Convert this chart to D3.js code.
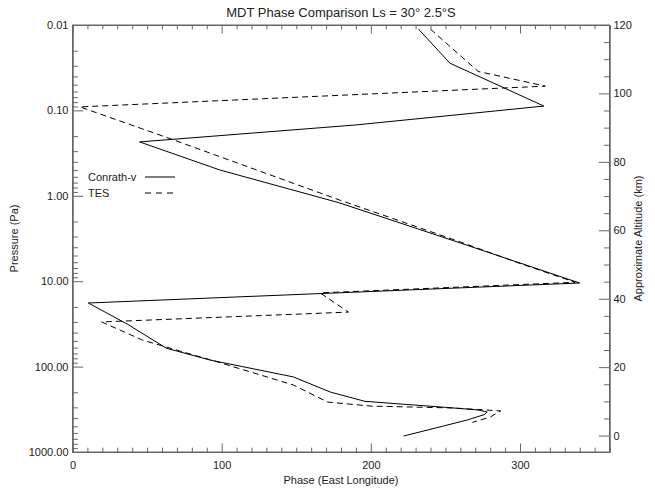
<!DOCTYPE html>
<html>
<head>
<meta charset="utf-8">
<script src="https://cdn.jsdelivr.net/npm/d3@7"></script>
<style>
  body { margin: 0; background: #fff; }
  text { font-family: "Liberation Sans", Arial, sans-serif; fill: #222; }
</style>
</head>
<body>
<svg id="chart" width="655" height="491"></svg>
<script>
// phase (deg East longitude) vs pressure (Pa)
const conrathPhase = [232, 253, 316, 190, 45, 99, 179, 260, 340, 10.6, 37, 63, 92.5, 148, 173, 196, 250, 272, 278, 276, 265, 248, 222];
const conrathPres  = [0.0112, 0.028, 0.089, 0.148, 0.234, 0.50, 1.21, 3.57, 10.5, 18, 32, 61, 84, 132, 199, 255, 300, 322, 340, 365, 420, 500, 650];

const tesPhase = [240, 272, 317, 5, 66, 179, 260, 300, 337, 166, 185, 19.5, 47, 97, 148, 171, 200, 255, 287, 280, 268];
const tesPres  = [0.0112, 0.035, 0.052, 0.091, 0.216, 1.12, 3.47, 6.2, 10.3, 13.7, 23, 30, 49, 88, 164, 260, 290, 305, 330, 390, 450];

const pressureTicks = [0.01, 0.1, 1, 10, 100, 1000];
const pressureLabels = ["0.01", "0.10", "1.00", "10.00", "100.00", "1000.00"];
const phaseTicks = [0, 100, 200, 300];
const altTicks = [0, 20, 40, 60, 80, 100, 120];

const margin = {top: 25, right: 45.5, bottom: 39, left: 72.5};
const width = 655 - margin.left - margin.right;
const height = 491 - margin.top - margin.bottom;

const svg = d3.select("#chart");
const g = svg.append("g")
    .attr("transform", "translate(" + margin.left + "," + margin.top + ")");

const x = d3.scaleLinear().domain([0, 360]).range([0, width]);
const y = d3.scaleLog().domain([1000, 0.01]).range([height, 0]);
const alt = d3.scaleLinear().domain([-4.8, 120]).range([height, 0]);

const axisColor = "#666";

// minor ticks: every 10 deg on phase, 2..9 per decade on pressure, every 5 km on altitude
const phaseMinor = d3.range(0, 361, 10).filter(v => v % 100 !== 0);
const presMinor = [];
pressureTicks.slice(0, -1).forEach(p => {
    for (let k = 2; k <= 9; k++) presMinor.push(p * k);
});
const altMinor = d3.range(0, 121, 5).filter(v => v % 20 !== 0);

// bottom and top axes
const bottomAxis = g.append("g").attr("transform", "translate(0," + height + ")")
    .call(d3.axisBottom(x).tickValues(phaseTicks).tickSizeInner(-8.5).tickSizeOuter(0).tickPadding(13));
const bottomMinor = g.append("g").attr("transform", "translate(0," + height + ")")
    .call(d3.axisBottom(x).tickValues(phaseMinor).tickSize(-4.3).tickFormat(""));
const topAxis = g.append("g")
    .call(d3.axisTop(x).tickValues(phaseTicks).tickSizeInner(-8.5).tickSizeOuter(0).tickFormat(""));
const topMinor = g.append("g")
    .call(d3.axisTop(x).tickValues(phaseMinor).tickSize(-4.3).tickFormat(""));

// left pressure axis
const leftAxis = g.append("g")
    .call(d3.axisLeft(y).tickValues(pressureTicks).tickSizeInner(-10.7).tickSizeOuter(0).tickPadding(4)
        .tickFormat((d, i) => pressureLabels[i]));
const leftMinor = g.append("g")
    .call(d3.axisLeft(y).tickValues(presMinor).tickSize(-5.4).tickFormat(""));

// right altitude axis
const rightAxis = g.append("g").attr("transform", "translate(" + width + ",0)")
    .call(d3.axisRight(alt).tickValues(altTicks).tickSizeInner(-10.7).tickSizeOuter(0).tickPadding(4));
const rightMinor = g.append("g").attr("transform", "translate(" + width + ",0)")
    .call(d3.axisRight(alt).tickValues(altMinor).tickSize(-5.4).tickFormat(""));

[bottomAxis, bottomMinor, topAxis, topMinor, leftAxis, leftMinor, rightAxis, rightMinor].forEach(a => {
    a.selectAll("path, line").attr("stroke", axisColor);
    a.selectAll("text").style("font-size", "11px").attr("fill", "#222");
});
bottomAxis.selectAll("text").attr("dy", "0.35em");

// frame
g.append("rect")
    .attr("width", width).attr("height", height)
    .attr("fill", "none").attr("stroke", axisColor);

// titles
svg.append("text")
    .attr("x", margin.left + width / 2).attr("y", 17)
    .attr("text-anchor", "middle")
    .style("font-size", "13px")
    .text("MDT Phase Comparison Ls = 30° 2.5°S");

svg.append("text")
    .attr("x", margin.left + width / 2).attr("y", 484)
    .attr("text-anchor", "middle")
    .style("font-size", "11px")
    .text("Phase (East Longitude)");

svg.append("text")
    .attr("transform", "translate(18," + (margin.top + height / 2) + ") rotate(-90)")
    .attr("text-anchor", "middle")
    .style("font-size", "11px")
    .text("Pressure (Pa)");

svg.append("text")
    .attr("transform", "translate(642," + (margin.top + height / 2) + ") rotate(-90)")
    .attr("text-anchor", "middle")
    .style("font-size", "11px")
    .text("Approximate Altitude (km)");

// curves
const line = d3.line().x(d => x(d[0])).y(d => y(d[1]));

g.append("path")
    .datum(d3.zip(conrathPhase, conrathPres))
    .attr("d", line)
    .attr("fill", "none")
    .attr("stroke", "#000")
    .attr("stroke-width", 1);

g.append("path")
    .datum(d3.zip(tesPhase, tesPres))
    .attr("d", line)
    .attr("fill", "none")
    .attr("stroke", "#000")
    .attr("stroke-width", 1)
    .attr("stroke-dasharray", "6,4");

// legend
const legend = svg.append("g");
legend.append("text").attr("x", 88).attr("y", 181).style("font-size", "11px").text("Conrath-v");
legend.append("line").attr("x1", 145).attr("x2", 175).attr("y1", 177).attr("y2", 177)
    .attr("stroke", "#000");
legend.append("text").attr("x", 88).attr("y", 197).style("font-size", "11px").text("TES");
legend.append("line").attr("x1", 145).attr("x2", 175).attr("y1", 193).attr("y2", 193)
    .attr("stroke", "#000").attr("stroke-dasharray", "6,5");
</script>
</body>
</html>
